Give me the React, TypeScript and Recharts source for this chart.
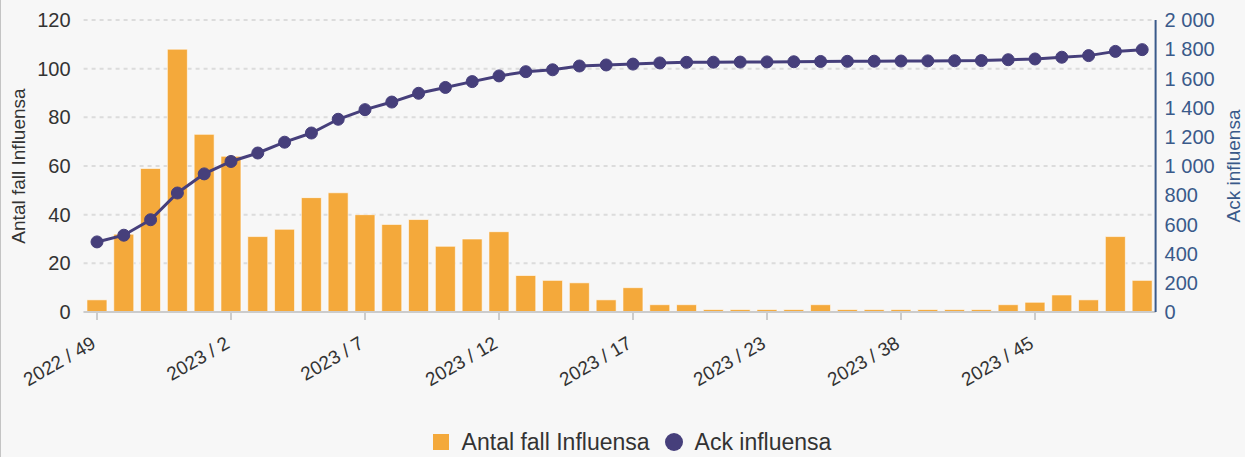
import React from 'react';
import { ComposedChart, Bar, Line, XAxis, YAxis, CartesianGrid, Legend } from 'recharts';

const weeks = ['2022 / 49','2022 / 50','2022 / 51','2022 / 52','2023 / 1','2023 / 2','2023 / 3','2023 / 4','2023 / 5','2023 / 6','2023 / 7','2023 / 8','2023 / 9','2023 / 10','2023 / 11','2023 / 12','2023 / 13','2023 / 14','2023 / 15','2023 / 16','2023 / 17','2023 / 18','2023 / 19','2023 / 20','2023 / 22','2023 / 23','2023 / 24','2023 / 26','2023 / 33','2023 / 35','2023 / 38','2023 / 39','2023 / 40','2023 / 42','2023 / 43','2023 / 45','2023 / 46','2023 / 47','2023 / 48','2023 / 49'];

const weeklyCases = [5,32,59,108,73,64,31,34,47,49,40,36,38,27,30,33,15,13,12,5,10,3,3,1,1,1,1,3,1,1,1,1,1,1,3,4,7,5,31,13];

const cumulativeCases = [480,526,632,815,946,1031,1089,1163,1226,1320,1386,1438,1498,1538,1578,1617,1646,1659,1685,1692,1698,1706,1710,1711,1712,1713,1714,1716,1717,1718,1719,1720,1721,1722,1728,1733,1745,1756,1785,1797];

const leftTicks = [0, 20, 40, 60, 80, 100, 120];
const rightTicks = [0, 200, 400, 600, 800, 1000, 1200, 1400, 1600, 1800, 2000];

const barName = 'Antal fall Influensa';
const lineName = 'Ack influensa';

const BAR_COLOR = '#f4a93b';
const LINE_COLOR = '#463f7b';
const RIGHT_COLOR = '#3a5a8a';
const TEXT_COLOR = '#333333';
const FONT = '"Liberation Sans", Arial, sans-serif';

const data = weeks.map((w, i) => ({ week: w, cases: weeklyCases[i], cum: cumulativeCases[i] }));

const fmtSpace = (v: number) => String(v).replace(/\B(?=(\d{3})+(?!\d))/g, ' ');

const XTick = (props: any) => {
  const { x, y, payload } = props;
  return (
    <g transform={`translate(${x},${y + 25})`}>
      <text x={0} y={0} textAnchor="end" transform="rotate(-30)" fill={TEXT_COLOR} fontSize={19} fontFamily={FONT}>
        {payload.value}
      </text>
    </g>
  );
};

const LeftTitle = (props: any) => {
  const vb = props.viewBox || {};
  const cx = vb.x + 17;
  const cy = vb.y + vb.height / 2;
  return (
    <text x={cx} y={cy} transform={`rotate(-90, ${cx}, ${cy})`} textAnchor="middle" dominantBaseline="central" fill={TEXT_COLOR} fontSize={19} fontFamily={FONT}>
      {barName}
    </text>
  );
};

const RightTitle = (props: any) => {
  const vb = props.viewBox || {};
  const cx = vb.x + vb.width - 12;
  const cy = vb.y + vb.height / 2;
  return (
    <text x={cx} y={cy} transform={`rotate(-90, ${cx}, ${cy})`} textAnchor="middle" dominantBaseline="central" fill={RIGHT_COLOR} fontSize={19} fontFamily={FONT}>
      {lineName}
    </text>
  );
};

const LegendContent = () => (
  <div style={{ display: 'flex', justifyContent: 'center', alignItems: 'center', fontFamily: FONT, fontSize: 23, color: TEXT_COLOR, height: 30, paddingLeft: 18 }}>
    <span style={{ display: 'inline-block', width: 16, height: 16, background: BAR_COLOR, marginRight: 13 }} />
    <span style={{ marginRight: 15 }}>{barName}</span>
    <span style={{ display: 'inline-block', width: 18, height: 18, borderRadius: '50%', background: LINE_COLOR, marginRight: 12 }} />
    <span>{lineName}</span>
  </div>
);

export default function App() {
  return (
    <div style={{ width: 1244, height: 457, background: '#f7f7f7', borderLeft: '1px solid #c4c4c4', position: 'relative' }}>
      <style>{`body{margin:0;}`}</style>
      <ComposedChart
        width={1244}
        height={457}
        data={data}
        margin={{ top: 20, right: 0, left: 0, bottom: 0 }}
        barCategoryGap="12.5%"
      >
        <CartesianGrid yAxisId="left" vertical={false} stroke="#dcdcdc" strokeDasharray="4 4" strokeWidth={2} />
        <XAxis
          dataKey="week"
          interval={4}
          tick={<XTick />}
          tickSize={8}
          tickMargin={2}
          height={115}
          axisLine={{ stroke: '#cccccc', strokeWidth: 2 }}
          tickLine={{ stroke: '#cccccc', strokeWidth: 2 }}
        />
        <YAxis
          yAxisId="left"
          domain={[0, 120]}
          ticks={leftTicks}
          width={82.6}
          axisLine={false}
          tickLine={false}
          tickSize={0}
          tickMargin={13}
          tick={{ fill: TEXT_COLOR, fontSize: 20, fontFamily: FONT }}
          label={<LeftTitle />}
        />
        <YAxis
          yAxisId="right"
          orientation="right"
          domain={[0, 2000]}
          ticks={rightTicks}
          width={89.4}
          axisLine={{ stroke: RIGHT_COLOR, strokeWidth: 2 }}
          tickLine={false}
          tickSize={0}
          tickMargin={9}
          tickFormatter={fmtSpace}
          tick={{ fill: RIGHT_COLOR, fontSize: 20, fontFamily: FONT }}
          label={<RightTitle />}
        />
        <Legend verticalAlign="bottom" content={<LegendContent />} />
        <Bar yAxisId="left" dataKey="cases" name={barName} fill={BAR_COLOR} stroke="#ffffff" strokeOpacity={0.6} strokeWidth={1} isAnimationActive={false} />
        <Line yAxisId="right" dataKey="cum" name={lineName} type="linear" stroke={LINE_COLOR} strokeWidth={3} dot={{ r: 6, fill: LINE_COLOR, stroke: LINE_COLOR, strokeWidth: 1 }} activeDot={false} isAnimationActive={false} />
      </ComposedChart>
    </div>
  );
}
